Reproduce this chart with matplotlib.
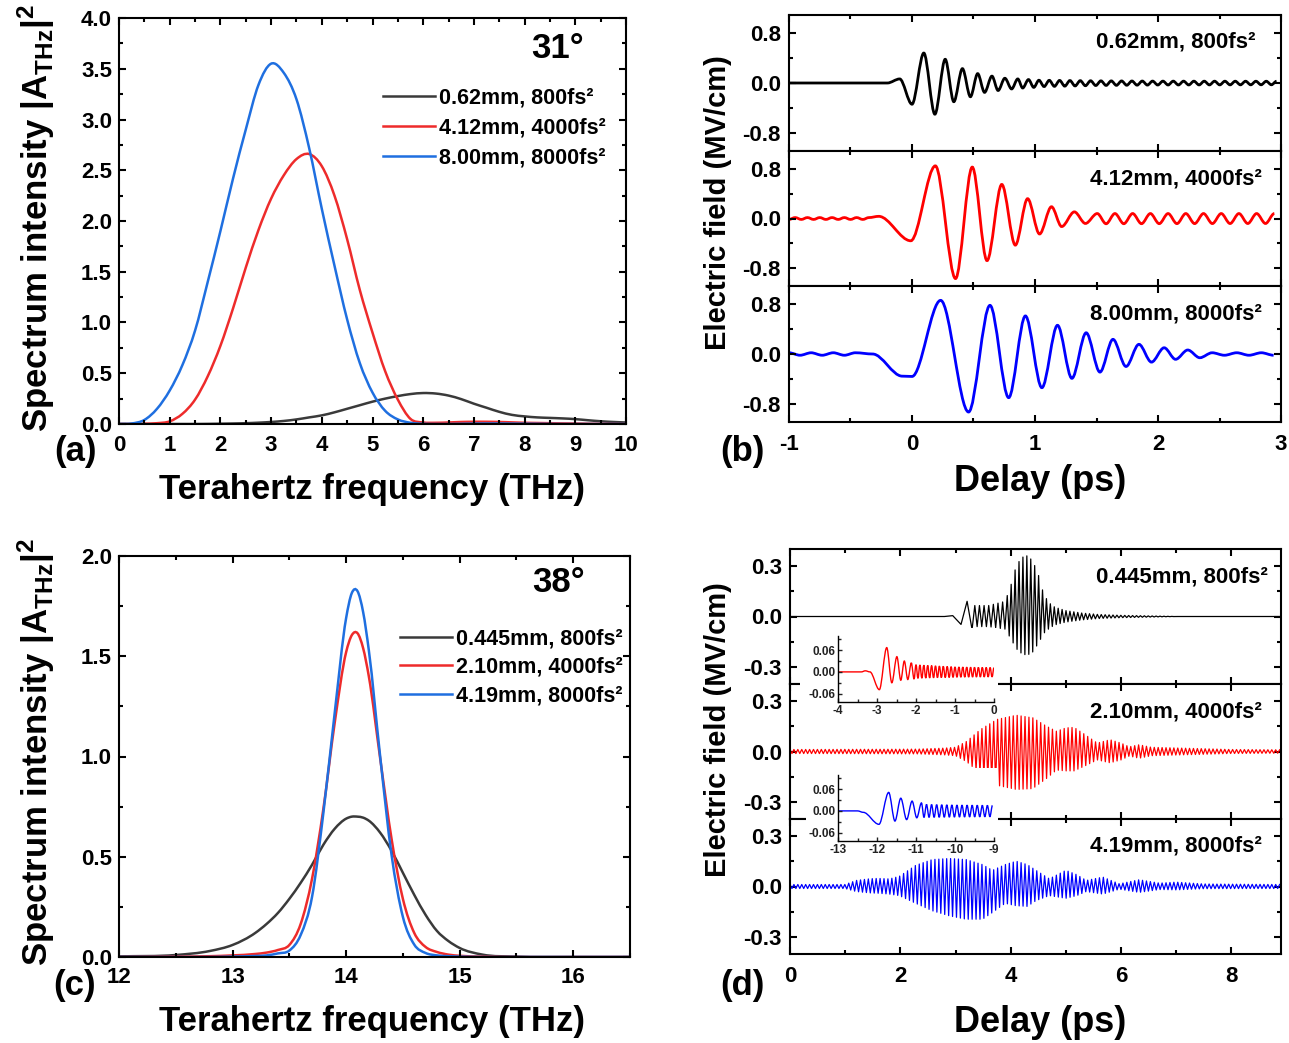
import numpy as np
import matplotlib
matplotlib.use('Agg')
import matplotlib.pyplot as plt
from matplotlib.path import Path
from matplotlib.patches import PathPatch, Rectangle
from matplotlib.lines import Line2D
from matplotlib.ticker import MultipleLocator, FormatStrFormatter

plt.rcParams['font.family'] = ['Liberation Sans', 'DejaVu Sans']
plt.rcParams['font.weight'] = 'bold'
plt.rcParams['axes.unicode_minus'] = False
plt.rcParams['mathtext.fontset'] = 'custom'
plt.rcParams['mathtext.rm'] = 'Liberation Sans:bold'
plt.rcParams['mathtext.it'] = 'Liberation Sans:bold'
plt.rcParams['mathtext.bf'] = 'Liberation Sans:bold'

# ---------------- data ----------------
# (a) spectra at 31 deg
freq_a = [0.0, 0.25, 0.5, 0.75, 1.0, 1.25, 1.5, 1.75, 2.0, 2.25, 2.5, 2.75, 3.0, 3.25,
          3.5, 3.75, 4.0, 4.25, 4.5, 4.75, 5.0, 5.25, 5.5, 5.75, 6.0, 6.25, 6.5, 6.75,
          7.0, 7.25, 7.5, 7.75, 8.0, 8.25, 8.5, 8.75, 9.0, 9.25, 9.5, 9.75, 10.0]
spec_a_062 = [0, 0, 0, 0, 0, 0, 0, 0.001, 0.003, 0.005, 0.008, 0.013, 0.02, 0.03, 0.045,
              0.065, 0.085, 0.115, 0.15, 0.185, 0.22, 0.25, 0.275, 0.295, 0.305, 0.3, 0.28,
              0.245, 0.2, 0.16, 0.12, 0.09, 0.075, 0.065, 0.06, 0.055, 0.048, 0.037, 0.027,
              0.02, 0.015]
spec_a_412 = [0, 0, 0.002, 0.008, 0.026, 0.1, 0.24, 0.47, 0.77, 1.14, 1.54, 1.91, 2.22,
              2.45, 2.61, 2.66, 2.54, 2.25, 1.82, 1.32, 0.9, 0.52, 0.24, 0.05, 0.015, 0.012,
              0.015, 0.02, 0.022, 0.022, 0.02, 0.016, 0.012, 0.01, 0.008, 0.006, 0.005,
              0.003, 0.002, 0.001, 0.0]
spec_a_800 = [0.0, 0.005, 0.04, 0.15, 0.33, 0.58, 0.92, 1.4, 1.9, 2.42, 2.9, 3.34, 3.55,
              3.46, 3.2, 2.72, 2.12, 1.56, 1.03, 0.6, 0.31, 0.13, 0.045, 0.012, 0.002, 0,
              0, 0.002, 0.004, 0.005, 0.005, 0.004, 0.003, 0.002, 0.001, 0, 0, 0, 0, 0, 0]
labels_a = ['0.62mm, 800fs²', '4.12mm, 4000fs²', '8.00mm, 8000fs²']

# (c) spectra at 38 deg
freq_c = [12.0, 12.5, 12.8, 13.0, 13.2, 13.3, 13.4, 13.5, 13.6, 13.7, 13.8, 13.9, 14.0,
          14.05, 14.1, 14.15, 14.2, 14.3, 14.4, 14.5, 14.6, 14.7, 14.8, 14.9, 15.0, 15.2,
          15.5, 16.0, 16.5]
spec_c_0445 = [0.003, 0.01, 0.03, 0.06, 0.12, 0.165, 0.22, 0.29, 0.37, 0.46, 0.56, 0.64,
               0.69, 0.70, 0.70, 0.695, 0.68, 0.62, 0.53, 0.42, 0.31, 0.21, 0.13, 0.08,
               0.045, 0.012, 0.002, 0.0, 0.0]
spec_c_210 = [0, 0.002, 0.004, 0.008, 0.015, 0.022, 0.035, 0.06, 0.165, 0.39, 0.74, 1.17,
              1.52, 1.605, 1.615, 1.54, 1.40, 0.99, 0.59, 0.29, 0.12, 0.05, 0.025, 0.012,
              0.006, 0.002, 0.0, 0.0, 0.0]
spec_c_419 = [0, 0, 0, 0.002, 0.005, 0.008, 0.018, 0.032, 0.11, 0.30, 0.72, 1.22, 1.69,
              1.815, 1.825, 1.72, 1.53, 1.0, 0.51, 0.2, 0.062, 0.02, 0.008, 0.004, 0.002,
              0.0, 0.0, 0.0, 0.0]
labels_c = ['0.445mm, 800fs²', '2.10mm, 4000fs²', '4.19mm, 8000fs²']

# (b) waveforms: extrema (delay ps, field MV/cm)
b1_t = [-1.0, -0.2, -0.10, 0.0, 0.096, 0.186, 0.27, 0.34, 0.41, 0.475, 0.534, 0.59, 0.65,
        0.70, 0.755, 0.81, 0.86, 0.90, 0.947, 0.99]
b1_v = [0.0, 0.0, 0.065, -0.34, 0.48, -0.50, 0.38, -0.30, 0.23, -0.22, 0.15, -0.15, 0.11,
        -0.12, 0.076, -0.095, 0.065, -0.08, 0.055, -0.07]
b1_tail_t = [1.0, 1.5, 2.0, 3.0]
b1_tail_hi = [0.045, 0.035, 0.03, 0.028]
b1_tail_lo = [0.06, 0.04, 0.032, 0.028]

b2_pre = 0.015
b2_t = [-0.27, -0.01, 0.19, 0.354, 0.49, 0.61, 0.73, 0.84, 0.94, 1.037, 1.134, 1.217, 1.32,
        1.41, 1.506]
b2_v = [0.035, -0.36, 0.85, -0.97, 0.83, -0.68, 0.55, -0.43, 0.32, -0.25, 0.19, -0.13,
        0.107, -0.08, 0.08]
b2_tail_t = [1.5, 3.0]
b2_tail_hi = [0.08, 0.08]
b2_tail_lo = [0.085, 0.08]

b3_pre = 0.02
b3_t = [-0.32, -0.08, 0.0, 0.233, 0.46, 0.634, 0.786, 0.922, 1.056, 1.183, 1.30, 1.416,
        1.528, 1.634, 1.74, 1.845, 1.947, 2.05, 2.143, 2.242, 2.34, 2.44]
b3_v = [0.0, -0.355, -0.36, 0.86, -0.93, 0.78, -0.70, 0.61, -0.54, 0.46, -0.39, 0.34,
        -0.29, 0.235, -0.20, 0.155, -0.13, 0.10, -0.085, 0.064, -0.06, 0.02]
b3_tail = 0.02
labels_b = ['0.62mm, 800fs²', '4.12mm, 4000fs²', '8.00mm, 8000fs²']

# (d) waveforms: onset extrema and envelopes of the 14 THz carrier
d1_t = [0.0, 2.8, 2.95, 3.10, 3.21, 3.30]
d1_v = [0.0, 0.0, 0.005, -0.047, 0.09, -0.077]
d1_env_t = [3.35, 3.6, 3.9, 4.0, 4.1, 4.2, 4.3, 4.4, 4.5, 4.6, 4.7, 4.8, 5.0, 5.3, 5.6,
            6.0, 6.6, 7.0, 8.9]
d1_env_hi = [0.065, 0.065, 0.09, 0.18, 0.3, 0.35, 0.36, 0.33, 0.25, 0.13, 0.08, 0.055,
             0.035, 0.02, 0.012, 0.007, 0.003, 0.0, 0.0]
d1_env_lo = [0.06, 0.06, 0.075, 0.13, 0.19, 0.22, 0.23, 0.21, 0.16, 0.1, 0.07, 0.05,
             0.033, 0.02, 0.012, 0.007, 0.003, 0.0, 0.0]

d2_env_t = [0.0, 2.3, 2.8, 3.0, 3.2, 3.45, 3.75, 4.1, 4.4, 4.65, 4.83, 5.0, 5.15, 5.35,
            5.57, 5.8, 6.0, 6.15, 6.33, 6.55, 7.1, 8.0, 8.9]
d2_env_hi = [0.012, 0.014, 0.02, 0.025, 0.06, 0.13, 0.19, 0.215, 0.2, 0.15, 0.12, 0.14,
             0.143, 0.1, 0.05, 0.07, 0.05, 0.028, 0.04, 0.025, 0.02, 0.012, 0.01]
d2_env_lo = [0.012, 0.014, 0.02, 0.025, 0.06, 0.13, 0.2, 0.225, 0.22, 0.16, 0.11, 0.115,
             0.115, 0.085, 0.05, 0.067, 0.05, 0.027, 0.04, 0.025, 0.02, 0.012, 0.01]

d3_env_t = [0.0, 1.0, 1.2, 1.45, 1.6, 1.8, 1.98, 2.28, 2.58, 2.89, 3.19, 3.49, 3.67, 3.9,
            4.1, 4.3, 4.46, 4.7, 5.0, 5.2, 5.37, 5.67, 5.97, 6.33, 6.7, 7.0, 7.5, 8.9]
d3_env_hi = [0.012, 0.012, 0.036, 0.046, 0.048, 0.045, 0.06, 0.126, 0.16, 0.166, 0.16,
             0.13, 0.096, 0.13, 0.15, 0.13, 0.096, 0.046, 0.096, 0.07, 0.036, 0.056,
             0.016, 0.04, 0.02, 0.026, 0.015, 0.012]
d3_env_lo = [0.012, 0.012, 0.03, 0.038, 0.04, 0.045, 0.054, 0.10, 0.144, 0.174, 0.194,
             0.194, 0.154, 0.10, 0.114, 0.118, 0.084, 0.054, 0.07, 0.054, 0.03, 0.045,
             0.016, 0.035, 0.018, 0.02, 0.013, 0.012]
labels_d = ['0.445mm, 800fs²', '2.10mm, 4000fs²', '4.19mm, 8000fs²']

# (d) insets: leading edge of the pulses
in1_t = [-4.0, -3.4, -3.3, -3.18, -2.94, -2.75, -2.62, -2.49, -2.39, -2.30, -2.21, -2.12, -2.05]
in1_v = [0.0, 0.0, 0.003, 0.0, -0.049, 0.067, -0.03, 0.042, -0.023, 0.03, -0.021, 0.025, -0.02]
in1_env_t = [-2.0, -1.0, 0.0]
in1_env_hi = [0.02, 0.014, 0.012]
in1_env_lo = [0.018, 0.015, 0.014]

in2_t = [-13.0, -12.5, -12.35, -11.95, -11.70, -11.54, -11.39, -11.24, -11.10, -10.98, -10.86]
in2_v = [0.0, 0.0, -0.004, -0.037, 0.051, -0.028, 0.035, -0.024, 0.027, -0.019, 0.022]
in2_env_t = [-10.8, -10.0, -9.0]
in2_env_hi = [0.018, 0.016, 0.015]
in2_env_lo = [0.018, 0.017, 0.016]


# ---------------- helpers ----------------
def carrier(t0, t1, half, env_t, hi, lo, first_sign):
    # alternating extrema of the carrier, amplitude taken from the read envelope
    t = np.arange(t0, t1 + 1e-9, half)
    sign = first_sign * (-1.0) ** np.arange(len(t))
    amp = np.where(sign > 0, np.interp(t, env_t, hi), np.interp(t, env_t, lo))
    return list(t), list(sign * amp)


def smooth_path(ts, vs):
    # cubic segments with flat tangents at each extremum
    verts = [(ts[0], vs[0])]
    codes = [Path.MOVETO]
    for i in range(1, len(ts)):
        dt = ts[i] - ts[i - 1]
        verts += [(ts[i - 1] + dt / 3, vs[i - 1]), (ts[i] - dt / 3, vs[i]), (ts[i], vs[i])]
        codes += [Path.CURVE4] * 3
    return Path(verts, codes)


def curve_path(xs, ys):
    # cubic Hermite segments through the read points (slopes from neighbours)
    x = np.asarray(xs, float)
    y = np.asarray(ys, float)
    d = np.gradient(y, x)
    verts = [(x[0], y[0])]
    codes = [Path.MOVETO]
    for i in range(len(x) - 1):
        h = x[i + 1] - x[i]
        verts += [(x[i] + h / 3, y[i] + d[i] * h / 3),
                  (x[i + 1] - h / 3, y[i + 1] - d[i + 1] * h / 3),
                  (x[i + 1], y[i + 1])]
        codes += [Path.CURVE4] * 3
    return Path(verts, codes)


W, H = 1289, 1043
fig = plt.figure(figsize=(W / 100, H / 100), dpi=100)


def box(l, t, r, b):
    return [l / W, 1 - b / H, (r - l) / W, (b - t) / H]


def label(x, y, s, size=25, **kw):
    kw.setdefault('ha', 'center')
    kw.setdefault('va', 'center')
    fig.text(x / W, 1 - y / H, s, fontsize=size, fontweight='bold', **kw)


def frame(ax, xmaj, xmin, ymaj, ymin, xpad=8, ypad=5):
    for sp in ax.spines.values():
        sp.set_linewidth(1.5)
    ax.xaxis.set_major_locator(MultipleLocator(xmaj))
    ax.xaxis.set_minor_locator(MultipleLocator(xmin))
    ax.yaxis.set_major_locator(MultipleLocator(ymaj))
    ax.yaxis.set_minor_locator(MultipleLocator(ymin))
    ax.tick_params(which='both', direction='in', top=True, right=True, width=1.5,
                   labelsize=16)
    ax.tick_params(which='major', length=5)
    ax.tick_params(which='minor', length=3)
    ax.tick_params(axis='x', pad=xpad)
    ax.tick_params(axis='y', pad=ypad)


spec_cols = ['#3a3a3a', '#ee2b2b', '#1f6fe0']
wave_cols = ['black', 'red', 'blue']

# ---------------- (a) ----------------
ax_a = fig.add_axes(box(119, 18, 626, 424))
handles = []
for vals, c in zip([spec_a_062, spec_a_412, spec_a_800], spec_cols):
    ax_a.add_patch(PathPatch(curve_path(freq_a, vals), facecolor='none', edgecolor=c, lw=1.8))
    handles.append(Line2D([], [], color=c, lw=1.8))
ax_a.set_xlim(0, 10)
ax_a.set_ylim(0, 4.0)
frame(ax_a, 1, 0.5, 0.5, 0.25)
ax_a.yaxis.set_major_formatter(FormatStrFormatter('%.1f'))
ax_a.legend(handles, labels_a, loc='upper left', bbox_to_anchor=(0.521, 0.828), frameon=False,
            fontsize=15.5, handlelength=2.4, handletextpad=0.2, labelspacing=0.42,
            borderpad=0, borderaxespad=0)
ax_a.text(0.865, 0.925, '31°', transform=ax_a.transAxes, fontsize=25, fontweight='bold',
          ha='center', va='center')

# ---------------- (c) ----------------
ax_c = fig.add_axes(box(119, 556, 630, 957))
handles = []
for vals, c in zip([spec_c_0445, spec_c_210, spec_c_419], spec_cols):
    ax_c.add_patch(PathPatch(curve_path(freq_c, vals), facecolor='none', edgecolor=c, lw=1.8))
    handles.append(Line2D([], [], color=c, lw=1.8))
ax_c.set_xlim(12, 16.5)
ax_c.set_ylim(0, 2.0)
frame(ax_c, 1, 0.5, 0.5, 0.25, xpad=7)
ax_c.yaxis.set_major_formatter(FormatStrFormatter('%.1f'))
ax_c.legend(handles, labels_c, loc='upper left', bbox_to_anchor=(0.55, 0.82), frameon=False,
            fontsize=15.5, handlelength=2.4, handletextpad=0.2, labelspacing=0.36,
            borderpad=0, borderaxespad=0)
ax_c.text(0.86, 0.935, '38°', transform=ax_c.transAxes, fontsize=25, fontweight='bold',
          ha='center', va='center')

# ---------------- (b) ----------------
t_pre2, v_pre2 = carrier(-1.0, -0.32, 0.05, [-1, 0], [b2_pre, b2_pre], [b2_pre, b2_pre], -1)
t_pre3, v_pre3 = carrier(-1.0, -0.40, 0.09, [-1, 0], [b3_pre, b3_pre], [b3_pre, b3_pre], 1)
t_tail1, v_tail1 = carrier(1.032, 3.0, 0.042, b1_tail_t, b1_tail_hi, b1_tail_lo, 1)
t_tail2, v_tail2 = carrier(1.578, 3.0, 0.072, b2_tail_t, b2_tail_hi, b2_tail_lo, -1)
t_tail3, v_tail3 = carrier(2.54, 3.0, 0.1, [2.5, 3.0], [b3_tail, b3_tail], [b3_tail, b3_tail], -1)
b_traces = [(b1_t + t_tail1, b1_v + v_tail1),
            (t_pre2 + b2_t + t_tail2, v_pre2 + b2_v + v_tail2),
            (t_pre3 + b3_t + t_tail3, v_pre3 + b3_v + v_tail3)]
b_rows = [(15, 151), (151, 286), (286, 422)]
b_text_y = [42, 179, 314]
b_text_x = [1255, 1262, 1262]
for i, ((tt, vv), (top, bot)) in enumerate(zip(b_traces, b_rows)):
    ax = fig.add_axes(box(789, top, 1281, bot))
    ax.add_patch(PathPatch(smooth_path(tt, vv), facecolor='none', edgecolor=wave_cols[i],
                           lw=2.0))
    ax.set_xlim(-1, 3)
    ax.set_ylim(-1.09, 1.09)
    frame(ax, 1, 0.5, 0.8, 0.4, xpad=9, ypad=6)
    ax.yaxis.set_major_formatter(FormatStrFormatter('%.1f'))
    if i < 2:
        ax.tick_params(labelbottom=False)
    label(b_text_x[i], b_text_y[i], labels_b[i], size=16, ha='right')

# ---------------- (d) ----------------
s1 = -np.sign(d1_v[-1])
t1a, v1a = carrier(3.35, 3.95, 0.042, d1_env_t, d1_env_hi, d1_env_lo, s1)
t1b, v1b = carrier(t1a[-1] + 0.0355, 8.9, 0.0355, d1_env_t, d1_env_hi, d1_env_lo,
                   -np.sign(v1a[-1]))
t2, v2 = carrier(0.0, 8.9, 0.0355, d2_env_t, d2_env_hi, d2_env_lo, 1)
t3, v3 = carrier(0.0, 8.9, 0.0355, d3_env_t, d3_env_hi, d3_env_lo, 1)
d_traces = [(d1_t + t1a + t1b, d1_v + v1a + v1b), (t2, v2), (t3, v3)]
d_rows = [(549, 684), (684, 819), (819, 954)]
d_text_y = [577, 712, 846]
d_text_x = [1268, 1262, 1262]
for i, ((tt, vv), (top, bot)) in enumerate(zip(d_traces, d_rows)):
    ax = fig.add_axes(box(790, top, 1281, bot))
    ax.plot(tt, vv, color=wave_cols[i], lw=0.9)
    ax.set_xlim(0, 8.9)
    ax.set_ylim(-0.4, 0.4)
    frame(ax, 2, 1, 0.3, 0.15, xpad=9, ypad=6)
    ax.yaxis.set_major_formatter(FormatStrFormatter('%.1f'))
    if i < 2:
        ax.tick_params(labelbottom=False)
    label(d_text_x[i], d_text_y[i], labels_d[i], size=16, ha='right')

# insets, each on a white card that hides the panel border behind it
fig.add_artist(Rectangle((800 / W, 1 - 714 / H), 198 / W, 86 / H, transform=fig.transFigure,
                         facecolor='white', edgecolor='none', zorder=1))
fig.add_artist(Rectangle((806 / W, 1 - 853 / H), 192 / W, 85 / H, transform=fig.transFigure,
                         facecolor='white', edgecolor='none', zorder=1))

ti1, vi1 = carrier(-2.0, 0.0, 0.05, in1_env_t, in1_env_hi, in1_env_lo, 1)
ti2, vi2 = carrier(-10.795, -9.0, 0.065, in2_env_t, in2_env_hi, in2_env_lo, -1)
insets = [((838, 636, 994, 702), (-4, 0), in1_t + ti1, in1_v + vi1, 'red'),
          ((838, 775, 994, 841), (-13, -9), in2_t + ti2, in2_v + vi2, 'blue')]
for (l, t, r, b), xl, tt, vv, c in insets:
    ax = fig.add_axes(box(l, t, r, b))
    ax.set_zorder(2)
    ax.add_patch(PathPatch(smooth_path(tt, vv), facecolor='none', edgecolor=c, lw=1.0))
    ax.set_xlim(*xl)
    ax.set_ylim(-0.083, 0.099)
    for side in ['top', 'right']:
        ax.spines[side].set_visible(False)
    for side in ['left', 'bottom']:
        ax.spines[side].set_linewidth(1.0)
    ax.set_yticks([-0.06, 0.0, 0.06])
    ax.yaxis.set_minor_locator(MultipleLocator(0.03))
    ax.xaxis.set_major_locator(MultipleLocator(1))
    ax.xaxis.set_minor_locator(MultipleLocator(0.5))
    ax.yaxis.set_major_formatter(FormatStrFormatter('%.2f'))
    ax.xaxis.set_major_formatter(FormatStrFormatter('%d'))
    ax.tick_params(which='both', direction='in', width=1.0, labelsize=8.5, pad=2,
                   colors='#222222')
    ax.tick_params(which='major', length=3)
    ax.tick_params(which='minor', length=2)

# ---------------- labels ----------------
ylab = 'Spectrum intensity |A$_{\\mathrm{THz}}$|$^{2}$'
label(36, 218, ylab, rotation=90)
label(36, 752, ylab, rotation=90)
label(372, 490, 'Terahertz frequency (THz)')
label(372, 1022, 'Terahertz frequency (THz)')
label(75, 452, '(a)')
label(75, 985, '(c)')
label(718, 203, 'Electric field (MV/cm)', size=21, rotation=90)
label(718, 730, 'Electric field (MV/cm)', size=21, rotation=90)
label(1040, 481, 'Delay (ps)', size=26)
label(1040, 1022, 'Delay (ps)', size=26)
label(742, 452, '(b)')
label(742, 985, '(d)')

fig.savefig('out.png', dpi=100)
